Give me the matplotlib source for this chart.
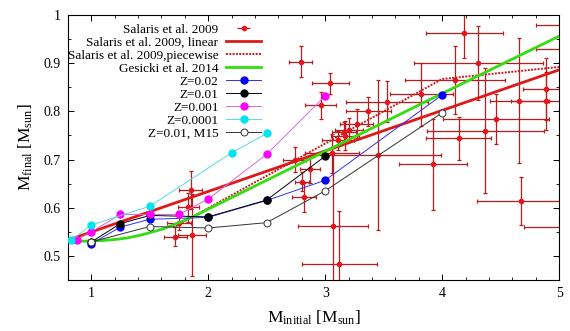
import numpy as np
import matplotlib
matplotlib.use("Agg")
import matplotlib.pyplot as plt
from matplotlib.ticker import MultipleLocator

plt.rcParams['font.family'] = ['Liberation Serif', 'DejaVu Serif']
plt.rcParams['mathtext.fontset'] = 'custom'
plt.rcParams['mathtext.rm'] = 'Liberation Serif'
plt.rcParams['mathtext.it'] = 'Liberation Serif:italic'

# Salaris et al. 2009 cluster data
sal_x = [1.85, 1.83, 1.75, 1.72, 1.86, 2.79, 3.045, 2.96, 3.53, 3.37, 3.27, 3.20, 3.16,
         3.17, 3.11, 3.06, 3.45, 2.74, 2.87, 2.80, 2.82, 3.07, 3.12, 3.82, 4.11, 4.19,
         4.31, 4.37, 4.46, 4.14, 3.92, 4.66, 4.89, 4.89, 4.67, 5.15, 5.10, 5.10]
sal_y = [0.637, 0.601, 0.568, 0.540, 0.543, 0.903, 0.858, 0.813, 0.820, 0.800, 0.774,
         0.761, 0.757, 0.749, 0.740, 0.713, 0.709, 0.700, 0.680, 0.654, 0.622, 0.563,
         0.483, 0.835, 0.865, 0.962, 0.900, 0.760, 0.784, 0.744, 0.690, 0.822, 0.846,
         0.822, 0.614, 0.979, 0.929, 0.561]
sal_xerr = [0.10, 0.09, 0.10, 0.095, 0.12, 0.10, 0.16, 0.135, 0.35, 0.19, 0.14, 0.12,
            0.10, 0.12, 0.14, 0.23, 0.54, 0.10, 0.085, 0.06, 0.10, 0.30, 0.32, 0.27,
            0.43, 0.33, 0.55, 0.50, 0.45, 0.28, 0.29, 0.25, 0.20, 0.30, 0.37, 0.35,
            0.30, 0.40]
sal_yerr = [0.04, 0.03, 0.015, 0.02, 0.085, 0.032, 0.022, 0.028, 0.042, 0.03, 0.03,
            0.025, 0.02, 0.03, 0.02, 0.04, 0.155, 0.026, 0.028, 0.02, 0.03, 0.15, 0.11,
            0.065, 0.07, 0.052, 0.076, 0.13, 0.052, 0.045, 0.095, 0.13, 0.065, 0.06,
            0.05, 0.03, 0.03, 0.03]

# Salaris et al. 2009 relations
lin_x = [0.85, 5.0]
lin_y = [0.537, 0.886]
pw_x = [1.7, 4.0, 5.0]
pw_y = [0.559, 0.867, 0.892]

# Gesicki et al. 2014
ges_x = [0.8, 1.0, 1.1, 1.2, 1.3, 1.4, 1.5, 1.6, 1.7, 1.8, 1.9, 2.5, 3.0, 4.0, 5.0]
ges_y = [0.530, 0.531, 0.532, 0.534, 0.537, 0.542, 0.548, 0.555, 0.564, 0.574, 0.585,
         0.657, 0.717, 0.837, 0.956]

# models
z02_x = [1.0, 1.25, 1.5, 2.0, 2.5, 3.0, 4.0]
z02_y = [0.525, 0.560, 0.576, 0.580, 0.615, 0.657, 0.834]
z01_x = [1.0, 1.25, 1.5, 2.0, 2.5, 3.0]
z01_y = [0.529, 0.567, 0.584, 0.581, 0.616, 0.707]
z001_x = [0.88, 1.0, 1.25, 1.5, 1.75, 2.0, 2.5, 3.0]
z001_y = [0.534, 0.550, 0.586, 0.586, 0.586, 0.618, 0.711, 0.832]
z0001_x = [0.83, 1.0, 1.5, 2.2, 2.5]
z0001_y = [0.533, 0.564, 0.603, 0.714, 0.754]
m15_x = [1.0, 1.5, 2.0, 2.5, 3.0, 4.0]
m15_y = [0.529, 0.561, 0.558, 0.569, 0.635, 0.797]

fig = plt.figure(figsize=(5.7, 3.31), dpi=100)
ax = fig.add_axes([0.119, 0.154, 0.862, 0.801])

ax.errorbar(sal_x, sal_y, xerr=sal_xerr, yerr=sal_yerr, fmt='o', color='#e8141c',
            ms=3, ecolor='#b81c1c', elinewidth=0.9, capsize=1.5, capthick=0.9, zorder=1)
h_sal = ax.errorbar(np.array([]), np.array([]), xerr=np.array([]), fmt='o',
                    color='#e8141c', ms=3, ecolor='#b81c1c', elinewidth=0.9,
                    capsize=1.5, capthick=0.9)

h_lin, = ax.plot(lin_x, lin_y, color='#e01818', lw=2.0, zorder=3)
h_pw, = ax.plot(pw_x, pw_y, color='#d01818', lw=1.4, ls=(0, (1, 0.7)), zorder=3)
h_ges, = ax.plot(ges_x, ges_y, color='#33dd11', lw=2.0, zorder=3)

h02, = ax.plot(z02_x, z02_y, '-o', color='#3030ee', mfc='#0000ff', mec='#0000ff', lw=0.7,
               ms=5, zorder=4)
h01, = ax.plot(z01_x, z01_y, '-o', color='black', lw=0.7, ms=5, zorder=4)
h001, = ax.plot(z001_x, z001_y, '-o', color='#dd66dd', mfc='#ff00ff', mec='#ff00ff',
                lw=0.7, ms=5, zorder=4)
h0001, = ax.plot(z0001_x, z0001_y, '-o', color='#55dddd', mfc='#00e5ee', mec='#00e5ee',
                 lw=0.7, ms=5, zorder=4)
hm15, = ax.plot(m15_x, m15_y, '-o', color='#333333', mfc='white', mec='#333333', lw=0.7,
                ms=5, mew=0.7, zorder=4)

handles = [h_sal, h_lin, h_pw, h_ges, h02, h01, h001, h0001, hm15]
labels = ['Salaris et al. 2009', 'Salaris et al. 2009, linear',
          'Salaris et al. 2009,piecewise', 'Gesicki et al. 2014', 'Z=0.02', 'Z=0.01',
          'Z=0.001', 'Z=0.0001', 'Z=0.01, M15']

ax.set_xlim(0.8, 5.0)
ax.set_ylim(0.45, 1.0)
ax.xaxis.set_major_locator(MultipleLocator(1))
ax.xaxis.set_minor_locator(MultipleLocator(0.2))
ax.yaxis.set_major_locator(MultipleLocator(0.1))
ax.yaxis.set_minor_locator(MultipleLocator(0.05))
ax.set_yticks([0.5, 0.6, 0.7, 0.8, 0.9, 1.0])
ax.set_yticklabels(['0.5', '0.6', '0.7', '0.8', '0.9', '1'])
ax.tick_params(which='both', direction='in', top=True, right=True, labelsize=10, pad=5)
ax.tick_params(which='major', length=4, width=0.7)
ax.tick_params(which='minor', length=2, width=0.6)
for s in ax.spines.values():
    s.set_linewidth(0.8)

ax.set_xlabel(r'M$_{\mathrm{initial}}$ [M$_{\mathrm{sun}}$]', fontsize=12.5, labelpad=6)
ax.set_ylabel(r'M$_{\mathrm{final}}$ [M$_{\mathrm{sun}}$]', fontsize=12.5, labelpad=6)

leg = ax.legend(handles, labels, loc='upper left', bbox_to_anchor=(0.0, 0.967),
                frameon=False, markerfirst=False, fontsize=9.5, labelspacing=0.06,
                handlelength=2.6, handletextpad=0.6, borderpad=0, borderaxespad=0)

fig.savefig('out.png', dpi=100)
